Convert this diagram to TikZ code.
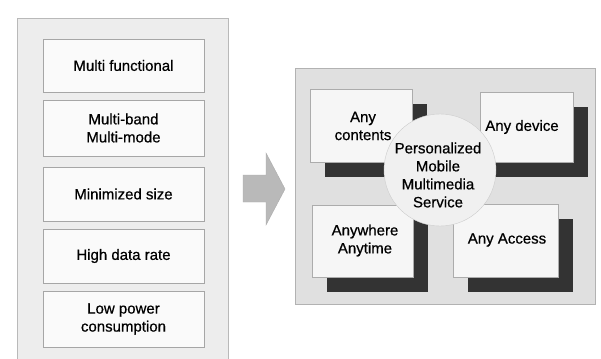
\documentclass[tikz,border=0pt]{standalone}
\usepackage{fontspec}
\setmainfont[FakeBold=0.6]{Liberation Sans}
\usetikzlibrary{shadows}
\begin{document}
\begin{tikzpicture}[x=1pt,y=-1pt,
  txt/.style={font=\fontsize{15}{18}\selectfont, align=center, text=black, inner sep=0pt},
  featbox/.style={draw=gray!70, line width=0.5pt, fill=gray!4, minimum width=161pt, inner sep=0pt,
    font=\fontsize{15}{18}\selectfont, align=center},
  card/.style={draw=gray!65, line width=0.5pt, fill=gray!7, inner sep=0pt,
    drop shadow={shadow xshift=15pt, shadow yshift=-15pt, fill=black!80, opacity=1}},
  hub/.style={circle, draw=gray!40, line width=0.4pt, fill=gray!12, inner sep=0pt},
  bigarrow/.style={fill=gray!55, draw=gray!65, line width=0.4pt}]
\useasboundingbox (0,0) rectangle (601,358);
\fill[white] (0,0) rectangle (601,358);

% left panel with the list of terminal requirements
\node[draw=gray!55, line width=0.5pt, fill=gray!14, minimum width=211pt, minimum height=342pt,
  anchor=north west, inner sep=0pt] (lpanel) at (17,18) {};
\node[featbox, minimum height=53pt] (f1) at (123.5,65.5) {Multi functional};
\node[featbox, minimum height=56pt] (f2) at (123.5,128) {Multi-band\\Multi-mode};
\node[featbox, minimum height=54pt] (f3) at (123.5,194) {Minimized size};
\node[featbox, minimum height=54pt] (f4) at (123.5,256) {High data rate};
\node[featbox, minimum height=56pt] (f5) at (123.5,319) {Low power\\consumption};

% block arrow
\draw[bigarrow] (243,175) -- (266,175) -- (266,153) -- (285,189) -- (266,225) -- (266,202) -- (243,202) -- cycle;

% right panel
\node[draw=gray!60, line width=0.5pt, fill=gray!24, minimum width=300pt, minimum height=236pt,
  anchor=north west, inner sep=0pt] (rpanel) at (295,68) {};

% four cards with dark drop shadows
\node[card, minimum width=102pt, minimum height=73pt] (c1) at (361,125.5) {};
\node[card, minimum width=93pt, minimum height=70pt] (c2) at (526.5,127) {};
\node[card, minimum width=101pt, minimum height=72pt] (c3) at (362.5,241) {};
\node[card, minimum width=105pt, minimum height=73pt] (c4) at (505.5,240.5) {};

% central service bubble
\node[hub, minimum size=112pt] (hub) at (440,170) {};

% texts
\node[txt] (t1) at (363,126) {Any\\contents};
\node[txt] (t2) at (522,127) {Any device};
\node[txt] (t3) at (365,240.5) {Anywhere\\Anytime};
\node[txt] (t4) at (507,240) {Any Access};
\node[txt] (th) at (438,175) {Personalized\\Mobile\\Multimedia\\Service};
\end{tikzpicture}
\end{document}
